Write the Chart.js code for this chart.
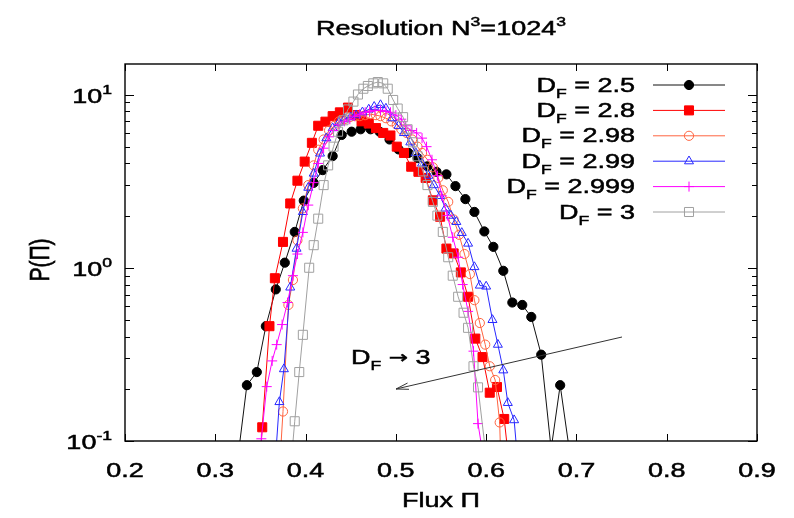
<!DOCTYPE html>
<html>
<head>
<meta charset="utf-8">
<script src="https://cdn.jsdelivr.net/npm/chart.js@4.4.0/dist/chart.umd.min.js"></script>
<style>
html, body { margin: 0; padding: 0; background: #fff; overflow: hidden; }
canvas { display: block; }
</style>
</head>
<body>
<canvas id="fluxChart" width="794" height="518"></canvas>
<script>
// values
const legendLabels = ['2.5', '2.8', '2.98', '2.99', '2.999', '3'];
const xTicks = [0.2, 0.3, 0.4, 0.5, 0.6, 0.7, 0.8, 0.9];
const yTicks = [0.1, 1, 10];
const yExponents = ['-1', '0', '1'];

const flux25 = [0.325,0.335,0.346,0.356,0.367,0.377,0.388,0.398,0.409,0.419,0.430,0.440,0.451,0.461,0.472,0.482,0.493,0.503,0.514,0.524,0.535,0.545,0.556,0.566,0.577,0.587,0.598,0.608,0.619,0.629,0.640,0.650,0.661,0.672,0.682,0.692];
const prob25 = [0.08,0.21,0.25,0.46,0.75,1.07,1.61,2.44,3.09,3.66,4.41,5.84,6.1,6.3,6.3,6.1,5.5,4.82,4.6,4.3,3.85,3.58,3.46,2.96,2.49,2.1,1.62,1.32,0.96,0.63,0.61,0.52,0.315,0.09,0.21,0.09];

const flux28 = [0.343,0.352,0.360,0.366,0.375,0.383,0.391,0.399,0.407,0.414,0.422,0.430,0.438,0.447,0.455,0.462,0.470,0.478,0.486,0.494,0.501,0.509,0.517,0.525,0.533,0.541,0.549,0.556,0.564,0.572,0.580,0.588,0.596,0.604,0.612,0.620,0.629];
const prob28 = [0.02,0.12,0.46,0.87,1.41,2.35,3.18,4.1,5.26,6.6,6.97,7.5,7.89,8.4,7.6,7.0,6.8,6.4,6.0,5.8,5.0,4.6,3.83,3.58,3.3,2.45,1.97,1.29,1.21,0.94,0.68,0.39,0.305,0.19,0.205,0.134,0.05];

const flux298 = [0.369,0.375,0.381,0.386,0.391,0.397,0.403,0.409,0.414,0.420,0.426,0.432,0.437,0.443,0.449,0.455,0.460,0.466,0.472,0.478,0.483,0.489,0.495,0.501,0.506,0.512,0.518,0.524,0.529,0.535,0.541,0.547,0.552,0.558,0.564,0.570,0.576,0.582,0.587,0.593,0.599,0.604,0.610,0.615,0.621];
const prob298 = [0.045,0.148,0.61,0.85,1.44,2.2,3.0,3.9,4.8,5.5,6.2,6.6,7.0,7.2,7.4,7.5,7.5,7.6,7.7,7.6,7.5,7.3,7.0,6.7,6.3,6.0,5.5,5.0,4.6,4.2,3.8,3.3,2.8,2.4,1.9,1.55,1.2,0.92,0.65,0.48,0.36,0.27,0.225,0.128,0.01];

const flux299 = [0.364,0.371,0.376,0.383,0.390,0.397,0.403,0.409,0.416,0.423,0.430,0.437,0.443,0.450,0.456,0.463,0.470,0.476,0.483,0.489,0.496,0.503,0.509,0.516,0.522,0.529,0.536,0.542,0.549,0.555,0.561,0.567,0.573,0.580,0.587,0.593,0.600,0.607,0.613,0.619,0.624,0.631,0.638];
const prob299 = [0.05,0.168,0.26,0.77,1.29,2.1,2.9,3.5,4.57,5.6,6.4,6.9,7.2,7.4,7.6,7.9,8.2,8.5,8.7,8.3,7.3,6.6,6.0,5.3,4.6,4.0,3.4,3.0,2.6,2.2,2.0,1.84,1.59,1.38,1.01,0.79,0.78,0.5,0.36,0.256,0.166,0.132,0.05];

const flux2999 = [0.345,0.351,0.357,0.363,0.368,0.374,0.380,0.386,0.391,0.397,0.403,0.409,0.414,0.420,0.426,0.431,0.437,0.443,0.449,0.454,0.460,0.466,0.471,0.477,0.483,0.489,0.494,0.500,0.506,0.511,0.517,0.523,0.529,0.534,0.540,0.546,0.551,0.557,0.563,0.569,0.574,0.580,0.586,0.591,0.597];
const prob2999 = [0.03,0.103,0.206,0.29,0.36,0.47,0.63,0.9,1.2,1.6,2.3,3.1,4.0,4.9,5.7,6.2,6.7,7.0,7.2,7.5,7.7,7.9,8.0,8.1,8.1,8.0,7.9,7.6,7.2,6.6,6.2,6.0,5.6,5.0,4.2,3.4,2.6,2.0,1.5,1.15,0.8,0.56,0.33,0.126,0.08];

const flux3 = [0.383,0.388,0.393,0.397,0.404,0.409,0.414,0.420,0.425,0.431,0.436,0.442,0.447,0.453,0.458,0.464,0.469,0.475,0.480,0.486,0.491,0.497,0.502,0.508,0.513,0.519,0.524,0.530,0.535,0.541,0.546,0.552,0.558,0.563,0.569,0.575,0.580,0.586,0.591,0.599];
const prob3 = [0.065,0.13,0.25,0.41,1.0,1.35,1.92,3.0,3.9,5.0,6.1,7.1,8.2,9.1,10.0,10.8,11.2,11.6,11.8,11.6,10.8,9.3,8.3,7.4,6.3,5.3,4.4,3.6,3.0,2.4,2.0,1.61,1.15,0.9,0.68,0.55,0.45,0.27,0.204,0.09];

const seriesX = [flux25, flux28, flux298, flux299, flux2999, flux3];
const seriesY = [prob25, prob28, prob298, prob299, prob2999, prob3];
const lineColors = ['#111111', '#ff0000', '#ff6440', '#2828ff', '#ff00ff', '#a0a0a0'];
const fillColors = ['#000000', '#ff0000', 'rgba(0,0,0,0)', 'rgba(0,0,0,0)', '#ff00ff', 'rgba(0,0,0,0)'];
const markers = ['circle', 'rect', 'circle', 'triangle', 'cross', 'rect'];
const markerSize = [4.6, 6.4, 4.6, 5.2, 5, 6.4];

const textFont = '"Liberation Sans", Arial, sans-serif';
const stretch = 1.35;

// draws text pieces (normal, sub, superscript) with the horizontal stretch of the source image
function drawRun(ctx, parts, x, y, align) {
    let total = 0;
    parts.forEach(p => {
        ctx.font = p[1] + 'px ' + (p[3] || textFont);
        total += ctx.measureText(p[0]).width * stretch;
    });
    let cx = align === 'right' ? x - total : (align === 'center' ? x - total / 2 : x);
    parts.forEach(p => {
        ctx.font = p[1] + 'px ' + (p[3] || textFont);
        const w = ctx.measureText(p[0]).width * stretch;
        ctx.save();
        ctx.translate(cx, y + p[2]);
        ctx.scale(stretch, 1);
        ctx.lineWidth = 0.5;
        ctx.strokeStyle = ctx.fillStyle;
        ctx.fillText(p[0], 0, 0);
        ctx.strokeText(p[0], 0, 0);
        ctx.restore();
        cx += w;
    });
}

const datasets = seriesX.map((xs, i) => ({
    label: 'D_F = ' + legendLabels[i],
    data: xs.map((x, j) => ({ x: x, y: seriesY[i][j] })),
    showLine: true,
    borderColor: lineColors[i],
    backgroundColor: fillColors[i],
    borderWidth: 1,
    pointStyle: markers[i],
    pointRadius: markerSize[i],
    pointBorderColor: i === 0 ? '#000000' : lineColors[i],
    pointBackgroundColor: fillColors[i],
    pointBorderWidth: 1,
    tension: 0,
    order: 5 - i
}));

const gnuplotDecor = {
    id: 'gnuplotDecor',
    afterDraw(chart) {
        const ctx = chart.ctx;
        const area = chart.chartArea;
        const xs = chart.scales.x;
        const ys = chart.scales.y;
        ctx.save();
        ctx.fillStyle = '#000';
        ctx.strokeStyle = '#000';
        ctx.textBaseline = 'alphabetic';
        ctx.textAlign = 'left';

        // frame
        ctx.lineWidth = 1.4;
        ctx.strokeRect(area.left, area.top, area.right - area.left, area.bottom - area.top);

        // ticks inside the frame
        ctx.lineWidth = 1;
        ctx.beginPath();
        xTicks.forEach(v => {
            const px = Math.round(xs.getPixelForValue(v)) + 0.5;
            ctx.moveTo(px, area.bottom); ctx.lineTo(px, area.bottom - 7);
            ctx.moveTo(px, area.top); ctx.lineTo(px, area.top + 7);
        });
        yTicks.forEach(v => {
            const py = Math.round(ys.getPixelForValue(v)) + 0.5;
            ctx.moveTo(area.left, py); ctx.lineTo(area.left + 9, py);
            ctx.moveTo(area.right, py); ctx.lineTo(area.right - 9, py);
            for (let k = 2; k <= 9; k++) {
                const m = v * k;
                if (m > ys.max) break;
                const pm = Math.round(ys.getPixelForValue(m)) + 0.5;
                ctx.moveTo(area.left, pm); ctx.lineTo(area.left + 5, pm);
                ctx.moveTo(area.right, pm); ctx.lineTo(area.right - 5, pm);
            }
        });
        ctx.stroke();

        // tick labels
        xTicks.forEach(v => {
            drawRun(ctx, [[v.toFixed(1), 20, 0]], xs.getPixelForValue(v), 477, 'center');
        });
        yTicks.forEach((v, i) => {
            const py = ys.getPixelForValue(v);
            drawRun(ctx, [['10', 20, 0], [yExponents[i], 13, -9]], 112, py + 8, 'right');
        });

        // title and axis titles
        const midX = (area.left + area.right) / 2;
        drawRun(ctx, [['Resolution N', 20, 0], ['3', 13, -9], ['=1024', 20, 0], ['3', 13, -9]], midX, 35, 'center');
        drawRun(ctx, [['Flux \u03A0', 20, 0]], midX, 507, 'center');
        ctx.save();
        ctx.translate(40, 260);
        ctx.scale(stretch, 1);
        ctx.rotate(-Math.PI / 2);
        ctx.font = '21px ' + textFont;
        ctx.textAlign = 'center';
        ctx.lineWidth = 0.5;
        ctx.fillText('P(\u03A0)', 0, 7);
        ctx.strokeText('P(\u03A0)', 0, 7);
        ctx.restore();

        // legend in the upper right corner
        chart.data.datasets.forEach((ds, i) => {
            const yc = 84.5 + i * 25.4;
            ctx.fillStyle = '#000';
            drawRun(ctx, [['D', 20, 0], ['F', 13, 6], [' = ' + legendLabels[i], 20, 0]], 635, yc + 7, 'right');
            ctx.strokeStyle = ds.borderColor;
            ctx.lineWidth = 1;
            ctx.beginPath();
            ctx.moveTo(653, yc + 0.5);
            ctx.lineTo(725, yc + 0.5);
            ctx.stroke();
            ctx.fillStyle = ds.pointBackgroundColor;
            ctx.strokeStyle = ds.pointBorderColor;
            Chart.helpers.drawPoint(ctx, { pointStyle: ds.pointStyle, radius: ds.pointRadius, borderWidth: 1, rotation: 0 }, 689, yc + 0.5);
        });

        // annotation with arrow
        ctx.fillStyle = '#000';
        drawRun(ctx, [['D', 20, 0], ['F', 13, 6], [' ', 20, 0], ['\u2192', 17, -1, '"DejaVu Sans", sans-serif'], [' 3', 20, 0]], 351, 364, 'left');
        ctx.strokeStyle = '#333';
        ctx.lineWidth = 1;
        const ax0 = 622, ay0 = 337, ax1 = 396, ay1 = 389;
        const ang = Math.atan2(ay1 - ay0, ax1 - ax0);
        ctx.beginPath();
        ctx.moveTo(ax0, ay0);
        ctx.lineTo(ax1, ay1);
        ctx.moveTo(ax1 + 13 * Math.cos(ang + Math.PI - 0.25), ay1 + 13 * Math.sin(ang + Math.PI - 0.25));
        ctx.lineTo(ax1, ay1);
        ctx.lineTo(ax1 + 13 * Math.cos(ang + Math.PI + 0.25), ay1 + 13 * Math.sin(ang + Math.PI + 0.25));
        ctx.stroke();
        ctx.restore();
    }
};

new Chart(document.getElementById('fluxChart').getContext('2d'), {
    type: 'scatter',
    data: { datasets: datasets },
    options: {
        responsive: false,
        animation: false,
        layout: { padding: { left: 125, right: 37, top: 64, bottom: 77 } },
        scales: {
            x: { type: 'linear', display: false, min: 0.2, max: 0.9 },
            y: { type: 'logarithmic', display: false, min: 0.1, max: 15 }
        },
        plugins: {
            legend: { display: false },
            title: { display: false },
            tooltip: { enabled: false }
        }
    },
    plugins: [gnuplotDecor]
});
</script>
</body>
</html>
